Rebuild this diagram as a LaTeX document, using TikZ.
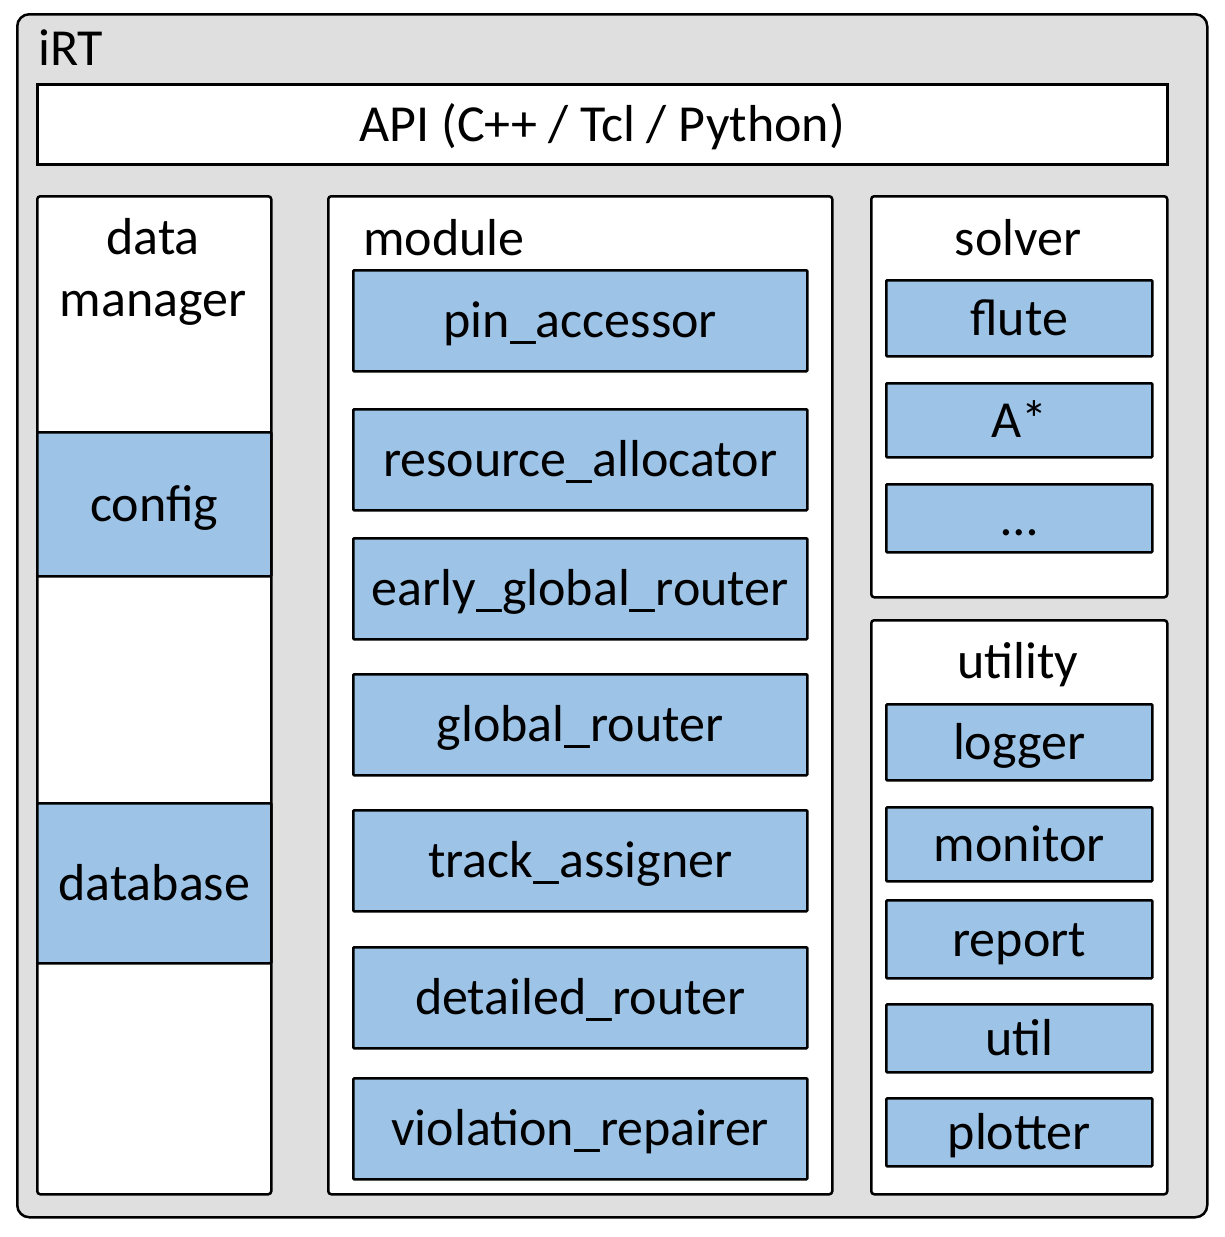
\documentclass[tikz,border=0pt]{standalone}
\usepackage{fontspec}
\setmainfont{Carlito}
\definecolor{outerfill}{HTML}{DFDFDF}
\definecolor{bluefill}{HTML}{9DC3E6}
\begin{document}
\begin{tikzpicture}[x=1pt,y=-1pt,
  every node/.style={font=\fontsize{52}{62}\selectfont, inner sep=0pt},
  frame/.style={draw=black, line width=2.5pt, fill=white, rounded corners=3pt, anchor=north west},
  bluebox/.style={draw=black, line width=2.5pt, fill=bluefill, anchor=north west, rounded corners=1pt,
    text depth=0pt, text height=34pt},
  lbl/.style={anchor=base}
]
\useasboundingbox (0,0) rectangle (1224,1237);
% outer
\node[draw=black, line width=2.5pt, fill=outerfill, rounded corners=12pt, anchor=north west,
  minimum width=1190pt, minimum height=1203pt] (irt) at (16,13) {};
\node[anchor=base west] (irtlbl) at (38,65) {iRT};
% API
\node[frame, rounded corners=0pt, minimum width=1130pt, minimum height=80pt] (api) at (36,83) {};
\node[text depth=0pt, text height=34pt] (apilbl) at (api.center) {API (C++ / Tcl / Python)};
% data manager
\node[frame, minimum width=234pt, minimum height=998pt] (dm) at (36,195) {};
\node[lbl, align=center] (dmlbl) at (153,316) {data\\manager};
\node[bluebox, minimum width=234pt, minimum height=144pt] (config) at (36,431) {};
\node[text depth=0pt, text height=34pt] (configlbl) at (config.center) {config};
\node[bluebox, minimum width=234pt, minimum height=160pt] (database) at (36,802) {};
\node[text depth=0pt, text height=34pt] (databaselbl) at (database.center) {database};
% module
\node[frame, minimum width=504pt, minimum height=998pt] (module) at (327,195) {};
\node[anchor=base west] (modulelbl) at (363,255) {module};
\foreach \n/\t/\y in {pin/pin\_accessor/269, res/resource\_allocator/408, egr/early\_global\_router/537,
  gr/global\_router/673, ta/track\_assigner/809, dr/detailed\_router/946, vr/violation\_repairer/1077}{
  \node[bluebox, minimum width=454pt, minimum height=101pt] (\n) at (352,\y) {\t};
}
% solver
\node[frame, minimum width=296pt, minimum height=401pt] (solver) at (870,195) {};
\node[lbl] (solverlbl) at (1018,255) {solver};
\node[bluebox, minimum width=266pt, minimum height=76pt] (flute) at (885,279) {flute};
\node[bluebox, minimum width=266pt, minimum height=74pt] (astar) at (885,382) {A*};
\node[bluebox, minimum width=266pt, minimum height=68pt] (etc) at (885,483) {…};
% utility
\node[frame, minimum width=296pt, minimum height=574pt] (utility) at (870,619) {};
\node[lbl] (utilitylbl) at (1018,678) {utility};
\node[bluebox, minimum width=266pt, minimum height=76pt] (logger) at (885,703) {logger};
\node[bluebox, minimum width=266pt, minimum height=74pt] (monitor) at (885,806) {monitor};
\node[bluebox, minimum width=266pt, minimum height=78pt] (report) at (885,899) {report};
\node[bluebox, minimum width=266pt, minimum height=68pt] (util) at (885,1003) {util};
\node[bluebox, minimum width=266pt, minimum height=68pt] (plotter) at (885,1097) {plotter};
\end{tikzpicture}
\end{document}
